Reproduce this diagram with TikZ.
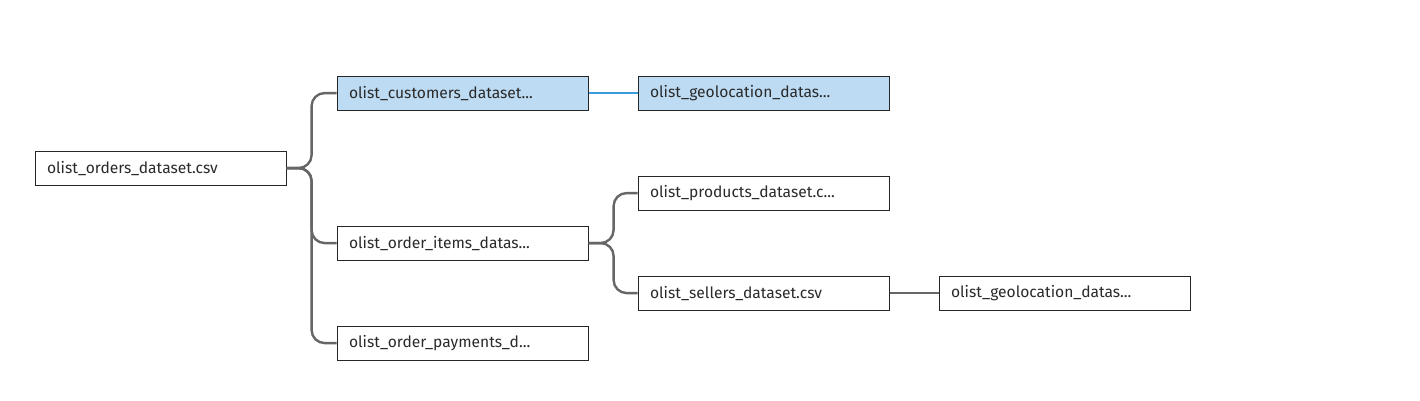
\documentclass[tikz,border=0pt]{standalone}
\usepackage{fontspec}
\setmainfont{Fira Sans}
\usetikzlibrary{shadows}
\definecolor{boxfill}{HTML}{BDDBF2}
\definecolor{linkgray}{HTML}{666666}
\definecolor{linkblue}{HTML}{3A9BDC}
\definecolor{txt}{HTML}{2A2A2A}
\begin{document}
\begin{tikzpicture}[x=1pt,y=-1pt,
  tbl/.style={draw=black!85, line width=1.1pt, fill=white, minimum width=251pt, minimum height=34pt,
    inner sep=0pt, anchor=north west, text=txt, font=\fontsize{15.6}{18}\selectfont,
    text width=227pt, align=left,
    drop shadow={shadow xshift=1pt, shadow yshift=-1pt, opacity=0.35, fill=black!40}},
  sel/.style={tbl, fill=boxfill},
  link/.style={draw=linkgray, line width=2.4pt, rounded corners=13pt},
  bluelink/.style={draw=linkblue, line width=2.4pt}]
\useasboundingbox (0,0) rectangle (1420,400);
\node[tbl] (orders) at (34.5,150.5) {olist\_orders\_dataset.csv};
\node[sel] (cust) at (336.5,75.5) {olist\_customers\_dataset...};
\node[sel] (geo1) at (637.5,75.5) {olist\_geolocation\_datas...};
\node[tbl] (items) at (336.5,225.5) {olist\_order\_items\_datas...};
\node[tbl] (pay) at (336.5,325.5) {olist\_order\_payments\_d...};
\node[tbl] (prod) at (637.5,175.5) {olist\_products\_dataset.c...};
\node[tbl] (sell) at (637.5,275.5) {olist\_sellers\_dataset.csv};
\node[tbl] (geo2) at (938.5,275.5) {olist\_geolocation\_datas...};
\draw[link] (orders.east) -- ++(25,0) |- (cust.west);
\draw[link] (orders.east) -- ++(25,0) |- (items.west);
\draw[link] (orders.east) -- ++(25,0) |- (pay.west);
\draw[link] (items.east) -- ++(25,0) |- (prod.west);
\draw[link] (items.east) -- ++(25,0) |- (sell.west);
\draw[link] (sell.east) -- (geo2.west);
\draw[bluelink] (cust.east) -- (geo1.west);
\end{tikzpicture}
\end{document}
